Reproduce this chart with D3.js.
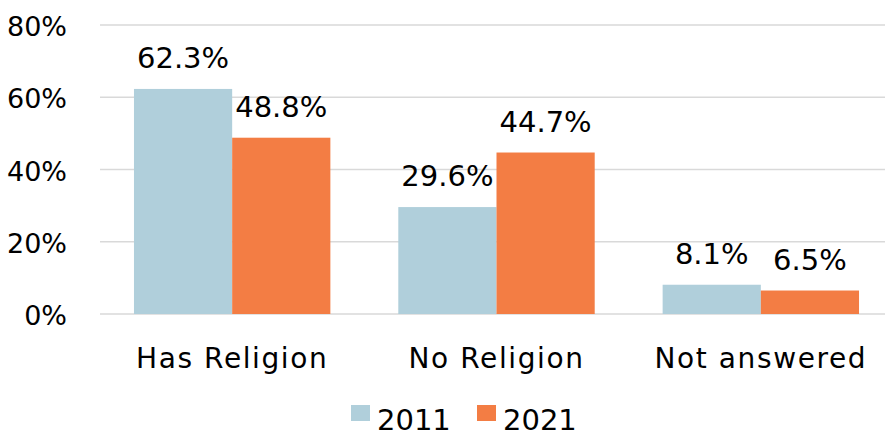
<!DOCTYPE html>
<html>
<head>
<meta charset="utf-8">
<script src="https://cdn.jsdelivr.net/npm/d3@7"></script>
<style>
  body { margin: 0; background: #fff; }
  svg { display: block; font-family: "DejaVu Sans", Verdana, sans-serif; }
</style>
</head>
<body>
<svg id="chart" width="885" height="437"></svg>
<script>
const categories = ['Has Religion', 'No Religion', 'Not answered'];
const years = ['2011', '2021'];
const values2011 = [62.3, 29.6, 8.1];
const values2021 = [48.8, 44.7, 6.5];
const yTicks = [0, 20, 40, 60, 80];

const colors = d3.scaleOrdinal().domain(years).range(['#b0cfdb', '#f37d44']);

const svg = d3.select('#chart');
const width = 885;
const height = 437;
const margin = { top: 25, right: -8, bottom: 123, left: 100 };

const x = d3.scaleBand()
  .domain(categories)
  .range([margin.left, width - margin.right])
  .paddingInner(0.257)
  .paddingOuter(0.1285);

const xSub = d3.scaleBand().domain(years).range([0, x.bandwidth()]);

const y = d3.scaleLinear()
  .domain([0, 80])
  .range([314, margin.top]);

// gridlines
svg.append('g')
  .selectAll('line')
  .data(yTicks)
  .join('line')
  .attr('x1', margin.left)
  .attr('x2', width)
  .attr('y1', d => y(d))
  .attr('y2', d => y(d))
  .attr('stroke', '#d9d9d9')
  .attr('stroke-width', 1.5);

// y labels
svg.append('g')
  .selectAll('text')
  .data(yTicks)
  .join('text')
  .attr('x', 67)
  .attr('y', d => y(d) + 11)
  .attr('text-anchor', 'end')
  .attr('font-size', 27)
  .attr('fill', '#000')
  .text(d => `${d}%`);

const rows = categories.map((c, i) => ({
  category: c,
  bars: [
    { year: '2011', value: values2011[i] },
    { year: '2021', value: values2021[i] }
  ]
}));

const groups = svg.append('g')
  .selectAll('g')
  .data(rows)
  .join('g')
  .attr('transform', d => `translate(${x(d.category)},0)`);

groups.selectAll('rect')
  .data(d => d.bars)
  .join('rect')
  .attr('x', d => xSub(d.year))
  .attr('width', xSub.bandwidth())
  .attr('y', d => y(d.value))
  .attr('height', d => y(0) - y(d.value))
  .attr('fill', d => colors(d.year));

groups.selectAll('text.val')
  .data(d => d.bars)
  .join('text')
  .attr('class', 'val')
  .attr('x', d => xSub(d.year) + xSub.bandwidth() / 2)
  .attr('y', d => y(d.value) - 21)
  .attr('text-anchor', 'middle')
  .attr('font-size', 29)
  .attr('fill', '#000')
  .text(d => `${d.value.toFixed(1)}%`);

// category labels
svg.append('g')
  .selectAll('text')
  .data(categories)
  .join('text')
  .attr('x', d => x(d) + x.bandwidth() / 2)
  .attr('y', 368)
  .attr('text-anchor', 'middle')
  .attr('font-size', 28)
  .attr('letter-spacing', 1.6)
  .attr('fill', '#000')
  .text(d => d);

// legend
const legendX = [351, 477];
const legend = svg.append('g')
  .selectAll('g')
  .data(years)
  .join('g')
  .attr('transform', (d, i) => `translate(${legendX[i]},0)`);

legend.append('rect')
  .attr('x', 0)
  .attr('y', 405)
  .attr('width', 19)
  .attr('height', 16)
  .attr('fill', d => colors(d));

legend.append('text')
  .attr('x', 26)
  .attr('y', 430)
  .attr('font-size', 29)
  .attr('fill', '#000')
  .text(d => d);
</script>
</body>
</html>
